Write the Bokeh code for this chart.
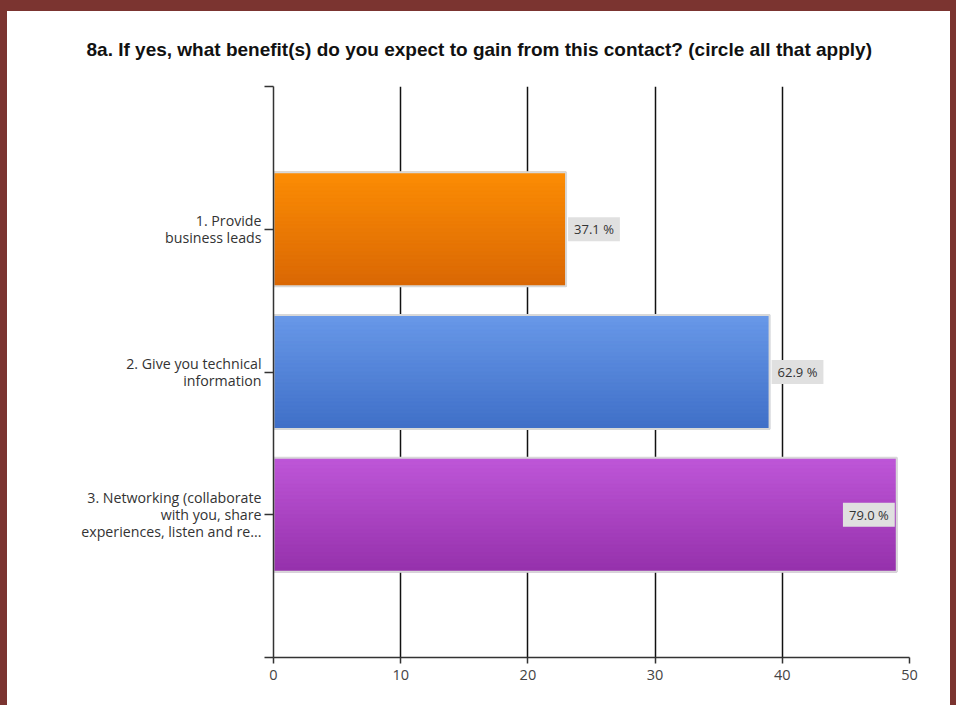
from bokeh.plotting import figure
from bokeh.models import Range1d, FixedTicker, Label
from bokeh.layouts import column
from bokeh.embed import file_html
from bokeh.resources import INLINE

# ---- data ----
categories = ["1. Provide\nbusiness leads",
              "2. Give you technical\ninformation",
              "3. Networking (collaborate\nwith you, share\nexperiences, listen and re..."]
counts = [23, 39, 49]
percent_labels = ["37.1 %", "62.9 %", "79.0 %"]
x_ticks = [0, 10, 20, 30, 40, 50]
title_text = "8a. If yes, what benefit(s) do you expect to gain from this contact? (circle all that apply)"

# ---- styling ----
top_colors = [(252, 140, 4), (104, 152, 232), (190, 86, 216)]
bot_colors = [(218, 104, 4), (64, 112, 200), (150, 50, 172)]
FONT = "Open Sans"
TFONT = "Liberation Sans"
BAR_H = 0.8
N_SLICES = 30

positions = [i + 1 for i in range(len(categories))]

p = figure(width=943, height=694, output_backend="svg", toolbar_location=None,
           x_range=Range1d(0, 50), y_range=Range1d(len(categories) + 1, 0),
           min_border_left=266, min_border_right=41, min_border_top=75, min_border_bottom=48)
p.outline_line_color = None
p.background_fill_color = "white"
p.border_fill_color = "white"

# title
p.title.text = title_text
p.title.align = "left"
p.title.offset = -187
p.title.vertical_align = "top"
p.title.standoff = 50
p.title.text_font = TFONT
p.title.text_font_size = "19px"
p.title.text_font_style = "bold"
p.title.text_color = "#111111"

# gridlines
p.ygrid.grid_line_color = None
p.xgrid.grid_line_color = "#111111"
p.xgrid.grid_line_width = 1.5
p.xgrid.ticker = FixedTicker(ticks=x_ticks)

# bars with vertical gradient (solid base + stacked thin slices)
mid_colors = ["#%02x%02x%02x" % tuple((a[j] + b[j]) // 2 for j in range(3))
              for a, b in zip(top_colors, bot_colors)]
p.hbar(y=positions, left=0, right=counts, height=BAR_H,
       fill_color=mid_colors, line_color=None)
for i, (pos, val) in enumerate(zip(positions, counts)):
    a, b = top_colors[i], bot_colors[i]
    ys, cols = [], []
    for k in range(N_SLICES):
        f = k / (N_SLICES - 1)
        c = tuple(int(round(a[j] + (b[j] - a[j]) * f)) for j in range(3))
        cols.append("#%02x%02x%02x" % c)
        ys.append(pos - BAR_H / 2 + (k + 0.5) * BAR_H / N_SLICES)
    p.hbar(y=ys, left=0, right=val, height=BAR_H / N_SLICES,
           fill_color=cols, line_color=cols, line_width=1)
p.hbar(y=positions, left=0, right=counts, height=BAR_H,
       fill_color=None, line_color="#d8d8d8", line_width=2)

# value labels
for pos, val, txt in zip(positions, counts, percent_labels):
    inside = val > 45
    lab = Label(x=val, y=pos, text=txt,
                x_offset=-2 if inside else 2,
                text_align="right" if inside else "left",
                text_baseline="middle",
                text_font=FONT, text_font_size="13px", text_color="#333333",
                background_fill_color="#e0e0e0",
                padding=dict(left=6, right=6, top=3, bottom=3))
    p.add_layout(lab)

# axes
xa = p.xaxis[0]
xa.ticker = FixedTicker(ticks=x_ticks)
xa.axis_line_color = "#333333"
xa.axis_line_width = 1.5
xa.major_tick_line_color = "#333333"
xa.major_tick_line_width = 1.5
xa.major_tick_out = 6
xa.major_tick_in = 0
xa.minor_tick_line_color = None
xa.major_label_text_font = FONT
xa.major_label_text_font_size = "14.5px"
xa.major_label_text_color = "#444444"
xa.major_label_standoff = 6

ya = p.yaxis[0]
ya.ticker = FixedTicker(ticks=list(range(0, len(categories) + 2)))
ya.major_label_overrides = {0: "", len(categories) + 1: "",
                            **{pos: c for pos, c in zip(positions, categories)}}
ya.axis_line_color = "#333333"
ya.axis_line_width = 1.5
ya.major_tick_line_color = "#333333"
ya.major_tick_line_width = 1.5
ya.major_tick_out = 9
ya.major_tick_in = 0
ya.minor_tick_line_color = None
ya.major_label_text_font = FONT
ya.major_label_text_font_size = "14.2px"
ya.major_label_text_color = "#333333"
ya.major_label_standoff = 3
ya.major_label_text_line_height = 0.9

layout = column(p, styles={"background-color": "white",
                           "border-style": "solid", "border-color": "#7b3430",
                           "border-width": "11px 6px 0px 7px"})

open("out.html", "w").write(file_html(layout, INLINE))
